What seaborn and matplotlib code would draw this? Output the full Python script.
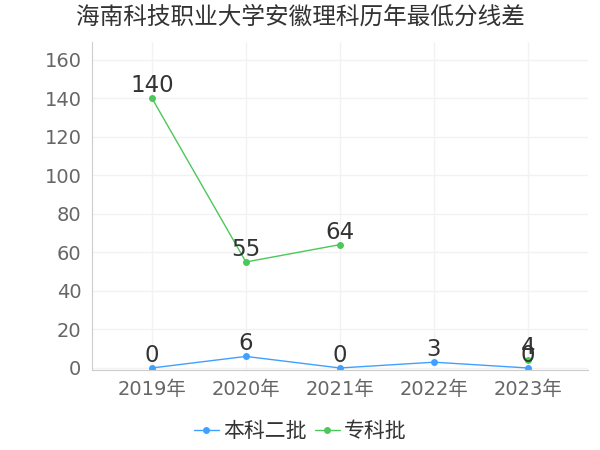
import numpy as np
import pandas as pd
import matplotlib
matplotlib.use("Agg")
import matplotlib.pyplot as plt
import seaborn as sns

years = ["2019年", "2020年", "2021年", "2022年", "2023年"]
benke2 = [0, 6, 0, 3, 0]
zhuanke = [140, 55, 64, np.nan, 4]
series_names = ["本科二批", "专科批"]
colors = ["#3fa0ff", "#4cc75a"]

sns.set_style("whitegrid")
plt.rcParams["font.family"] = ["DejaVu Sans", "Noto Sans CJK SC"]

df = pd.DataFrame({"year": years, series_names[0]: benke2, series_names[1]: zhuanke})
x = np.arange(len(years))

fig = plt.figure(figsize=(6, 4.5), dpi=100)
ax = fig.add_axes([0.153, 0.178, 0.827, 0.728])

for name, c in zip(series_names, colors):
    vals = df[name].values
    # break the line where a year is missing
    seg_id = np.cumsum(np.isnan(vals))
    first = True
    for sid in np.unique(seg_id[~np.isnan(vals)]):
        m = (seg_id == sid) & ~np.isnan(vals)
        sns.lineplot(x=x[m], y=vals[m], ax=ax, color=c, marker="o", markersize=5,
                     markeredgewidth=0, linewidth=1, label=name if first else None)
        first = False
    for xi, v in zip(x, vals):
        if not np.isnan(v):
            ax.text(xi, v + 0.5, f"{int(v)}", ha="center", va="bottom", fontsize=16.5, color="#333333")

ax.set_xlim(-0.64, 4.64)
ax.set_ylim(-1, 169)
ax.set_yticks(range(0, 161, 20))
ax.set_xticks(x)
ax.set_xticklabels(years)
ax.tick_params(axis="both", labelsize=14, colors="#666666", length=4)
ax.tick_params(axis="both", color="#cccccc")
ax.grid(color="#f2f2f2", linewidth=1)
for s in ["top", "right"]:
    ax.spines[s].set_visible(False)
for s in ["left", "bottom"]:
    ax.spines[s].set_color("#cccccc")

ax.legend(loc="upper center", bbox_to_anchor=(0.42, -0.1), ncol=2, frameon=False,
          fontsize=15, handlelength=1.2, handletextpad=0.2, columnspacing=0.4,
          labelcolor="#333333")

fig.suptitle("海南科技职业大学安徽理科历年最低分线差", x=0.5, y=0.99, fontsize=17, color="#333333")

fig.savefig("out.png", dpi=100)
